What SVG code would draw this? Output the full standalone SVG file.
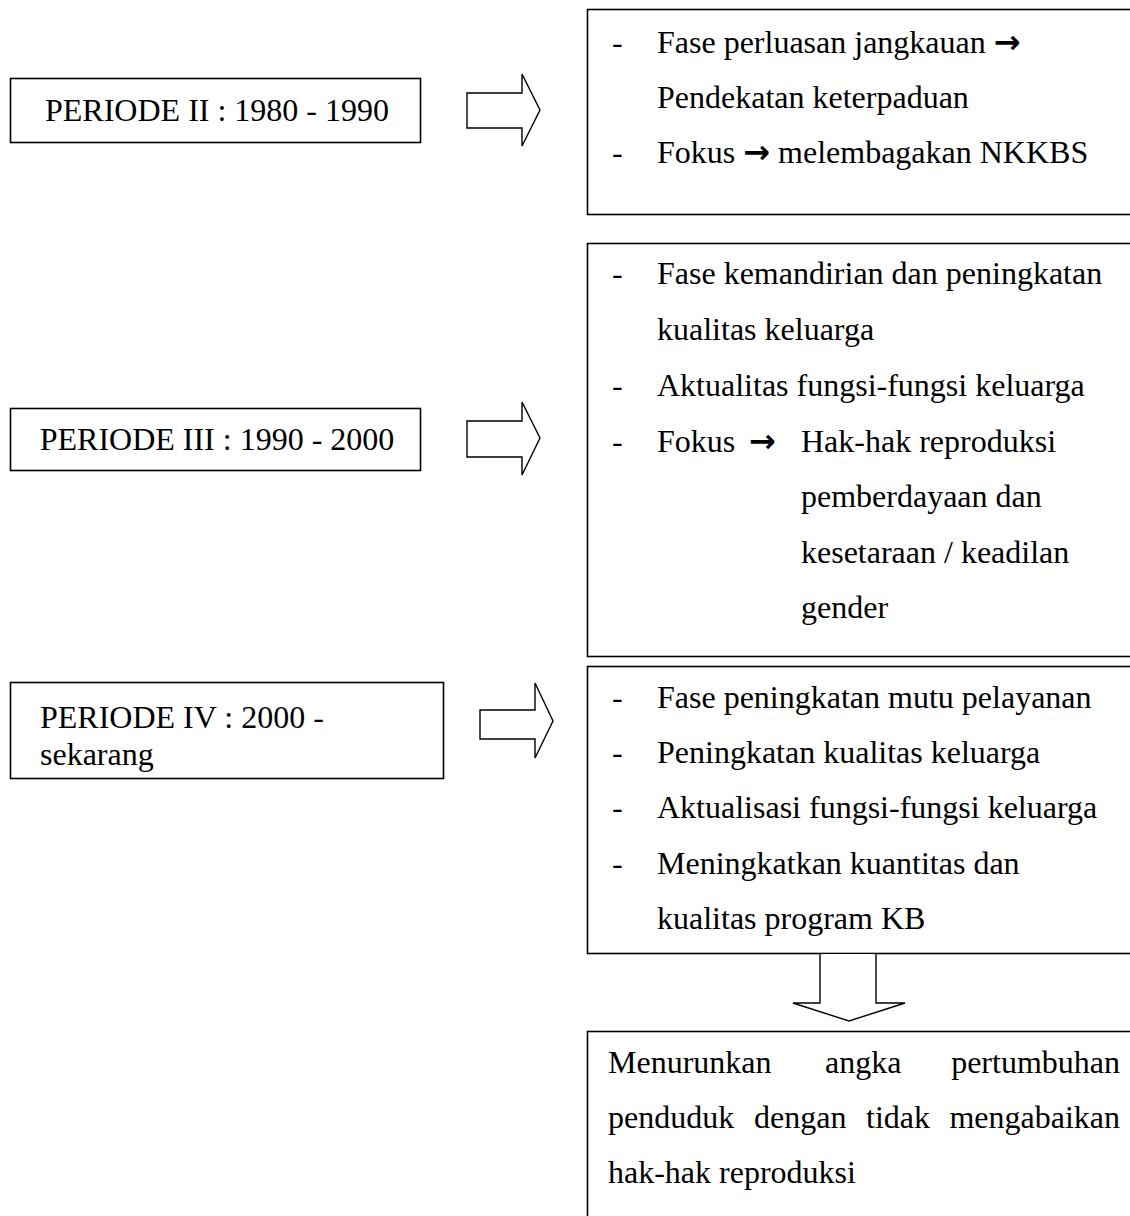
<svg xmlns="http://www.w3.org/2000/svg" width="1130" height="1216" viewBox="0 0 1130 1216">
<style>
.box{fill:#fff;stroke:#000;stroke-width:1.6}
.arr{fill:#fff;stroke:#000;stroke-width:1.4;stroke-linejoin:miter}
text{font-family:"Liberation Serif","Times New Roman",serif;font-size:32px;fill:#000}
.sym{font-family:"DejaVu Sans","Liberation Sans",sans-serif;font-size:32px;font-weight:bold}
.mid{text-anchor:middle}
.end{text-anchor:end}
</style>
<rect width="1130" height="1216" fill="#fff"/>
<g id="period2">
<rect class="box" x="10.5" y="78.5" width="410" height="64"/>
<text class="mid" x="217" y="121">PERIODE II : 1980 - 1990</text>
</g>
<g id="period3">
<rect class="box" x="10.5" y="408.5" width="410" height="62"/>
<text class="mid" x="217" y="450">PERIODE III : 1990 - 2000</text>
</g>
<g id="period4">
<rect class="box" x="10.5" y="682.5" width="433" height="96"/>
<text x="40" y="728">PERIODE IV : 2000 -</text>
<text x="40" y="765">sekarang</text>
</g>
<g id="desc2">
<rect class="box" x="587.5" y="9.5" width="560" height="205"/>
<text x="612" y="53">-</text>
<text x="657" y="53">Fase perluasan jangkauan <tspan class="sym">→</tspan></text>
<text x="657" y="108">Pendekatan keterpaduan</text>
<text x="612" y="163">-</text>
<text x="657" y="163">Fokus <tspan class="sym">→</tspan> melembagakan NKKBS</text>
</g>
<g id="desc3">
<rect class="box" x="587.5" y="243.5" width="560" height="413"/>
<text x="612" y="284">-</text>
<text x="657" y="284">Fase kemandirian dan peningkatan</text>
<text x="657" y="340">kualitas keluarga</text>
<text x="612" y="396">-</text>
<text x="657" y="396">Aktualitas fungsi-fungsi keluarga</text>
<text x="612" y="452">-</text>
<text x="657" y="452">Fokus</text>
<text class="sym" x="749" y="452">→</text>
<text x="801" y="452">Hak-hak reproduksi</text>
<text x="801" y="507">pemberdayaan dan</text>
<text x="801" y="563">kesetaraan / keadilan</text>
<text x="801" y="618">gender</text>
</g>
<g id="desc4">
<rect class="box" x="587.5" y="666.5" width="560" height="287"/>
<text x="612" y="708">-</text>
<text x="657" y="708">Fase peningkatan mutu pelayanan</text>
<text x="612" y="763">-</text>
<text x="657" y="763">Peningkatan kualitas keluarga</text>
<text x="612" y="818">-</text>
<text x="657" y="818">Aktualisasi fungsi-fungsi keluarga</text>
<text x="612" y="874">-</text>
<text x="657" y="874">Meningkatkan kuantitas dan</text>
<text x="657" y="929">kualitas program KB</text>
</g>
<g id="goal">
<rect class="box" x="587.5" y="1031.5" width="560" height="210"/>
<text x="608" y="1073">Menurunkan</text>
<text x="825" y="1073">angka</text>
<text class="end" x="1120" y="1073">pertumbuhan</text>
<text x="608" y="1128">penduduk</text>
<text x="754" y="1128">dengan</text>
<text x="866" y="1128">tidak</text>
<text class="end" x="1120" y="1128">mengabaikan</text>
<text x="608" y="1183">hak-hak reproduksi</text>
</g>
<g id="connectors">
<path class="arr" d="M467,93 H522 V74 L540,110 L522,146 V128 H467 Z"/>
<path class="arr" d="M467,421 H522 V402 L540,438 L522,475 V457 H467 Z"/>
<path class="arr" d="M480,710 H535 V683 L553,721 L535,758 V739 H480 Z"/>
<path class="arr" d="M820,954 V1003 H793 L849,1021 L905,1003 H876 V954"/>
</g>
</svg>
